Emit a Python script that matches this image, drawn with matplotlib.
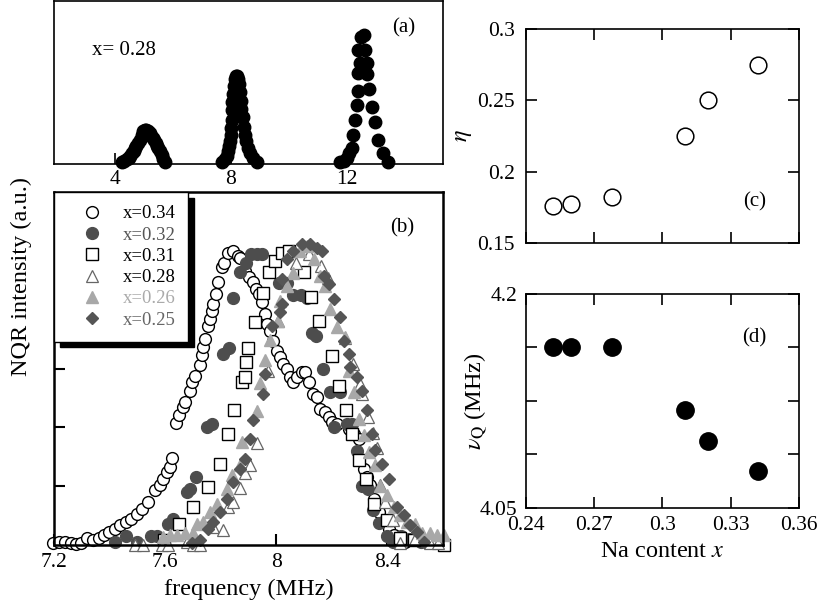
import matplotlib
matplotlib.use('Agg')
import matplotlib.pyplot as plt

plt.rcParams['font.family'] = ['Liberation Serif', 'DejaVu Serif']
plt.rcParams['mathtext.fontset'] = 'stix'

# (a) full spectrum, x=0.28
a_freq = [4.23, 4.32, 4.40, 4.47, 4.52, 4.58, 4.64, 4.69, 4.74, 4.80, 4.86, 4.92, 4.97, 5.03,
          5.08, 5.13, 5.20, 5.26, 5.30, 5.34, 5.40, 5.45, 5.49, 5.55, 5.61, 5.66, 5.72,
          7.68, 7.78, 7.86, 7.90, 7.94, 7.97, 7.99, 8.00, 8.02, 8.04, 8.05, 8.07, 8.10, 8.14,
          8.18, 8.21, 8.25, 8.28, 8.30, 8.33, 8.36, 8.40, 8.44, 8.48, 8.53, 8.59, 8.67, 8.76, 8.89,
          11.76, 11.88, 11.99, 12.08, 12.16, 12.21, 12.28, 12.33, 12.39, 12.39, 12.45, 12.39, 12.47,
          12.59, 12.62, 12.68, 12.68, 12.77, 12.85, 12.97, 13.07, 13.24, 13.41]
a_int = [0.01, 0.02, 0.03, 0.04, 0.05, 0.07, 0.08, 0.10, 0.11, 0.13, 0.15, 0.18, 0.20, 0.21,
         0.21, 0.20, 0.19, 0.17, 0.16, 0.15, 0.13, 0.11, 0.10, 0.08, 0.055, 0.03, 0.01,
         0.01, 0.03, 0.05, 0.08, 0.11, 0.14, 0.18, 0.22, 0.27, 0.33, 0.38, 0.43, 0.48, 0.52,
         0.54, 0.54, 0.52, 0.49, 0.44, 0.39, 0.34, 0.29, 0.23, 0.18, 0.14, 0.10, 0.07, 0.04, 0.01,
         0.01, 0.02, 0.04, 0.07, 0.10, 0.18, 0.27, 0.36, 0.45, 0.56, 0.62, 0.70, 0.78,
         0.79, 0.70, 0.62, 0.55, 0.46, 0.35, 0.26, 0.15, 0.07, 0.01]

# (b) high-frequency line for each Na content
f34 = [7.198, 7.219, 7.240, 7.260, 7.279, 7.298, 7.320, 7.339, 7.361, 7.380, 7.398, 7.420, 7.438,
       7.459, 7.477, 7.498, 7.517, 7.540, 7.562, 7.580, 7.594, 7.606, 7.618, 7.626, 7.640, 7.650,
       7.664, 7.672, 7.688, 7.696, 7.708, 7.724, 7.732, 7.738, 7.742, 7.753, 7.760, 7.768, 7.774,
       7.784, 7.792, 7.804, 7.813, 7.826, 7.846, 7.861, 7.870, 7.888, 7.904, 7.918, 7.928, 7.940,
       7.948, 7.960, 7.966, 7.978, 7.988, 8.002, 8.014, 8.026, 8.038, 8.050, 8.062, 8.074, 8.092,
       8.104, 8.120, 8.134, 8.147, 8.159, 8.177, 8.189, 8.201, 8.219, 8.261, 8.279, 8.297, 8.315,
       8.327, 8.339, 8.351, 8.357, 8.369, 8.384, 8.405, 8.423, 8.447, 8.465]
i34 = [0.006, 0.011, 0.011, 0.008, 0.003, 0.006, 0.023, 0.017, 0.023, 0.034, 0.043, 0.056, 0.068,
       0.077, 0.090, 0.105, 0.124, 0.147, 0.186, 0.203, 0.226, 0.249, 0.266, 0.296, 0.416, 0.441,
       0.469, 0.486, 0.525, 0.554, 0.576, 0.612, 0.647, 0.672, 0.701, 0.746, 0.768, 0.797, 0.819,
       0.853, 0.895, 0.944, 0.960, 0.994, 1.000, 0.983, 0.977, 0.932, 0.910, 0.893, 0.870, 0.853,
       0.825, 0.785, 0.751, 0.729, 0.695, 0.661, 0.638, 0.616, 0.599, 0.571, 0.554, 0.571, 0.588,
       0.588, 0.556, 0.514, 0.503, 0.463, 0.452, 0.435, 0.418, 0.412, 0.395, 0.379, 0.362, 0.260,
       0.232, 0.203, 0.158, 0.124, 0.113, 0.079, 0.056, 0.034, 0.017, 0.011]

f32 = [7.42, 7.46, 7.50, 7.55, 7.57, 7.61, 7.63, 7.68, 7.69, 7.71, 7.75, 7.77, 7.81, 7.83, 7.845,
       7.87, 7.89, 7.91, 7.93, 7.95, 8.01, 8.04, 8.06, 8.09, 8.11, 8.13, 8.145, 8.17, 8.195, 8.23,
       8.21, 8.255, 8.275, 8.29, 8.31, 8.33, 8.35, 8.37, 8.40, 8.42, 8.45, 8.48, 8.52]
i32 = [0.01, 0.03, 0.01, 0.03, 0.03, 0.07, 0.09, 0.18, 0.19, 0.23, 0.40, 0.41, 0.65, 0.67, 0.84,
       0.93, 0.96, 0.99, 0.99, 0.99, 0.89, 0.89, 0.85, 0.85, 0.84, 0.72, 0.71, 0.60, 0.52, 0.52,
       0.40, 0.41, 0.41, 0.32, 0.20, 0.19, 0.12, 0.075, 0.03, 0.01, 0.03, 0.02, 0.01]

f31 = [7.596, 7.650, 7.700, 7.753, 7.798, 7.826, 7.850, 7.876, 7.888, 7.892, 7.900, 7.924, 7.951,
       7.976, 7.996, 8.020, 8.048, 8.101, 8.125, 8.153, 8.201, 8.226, 8.252, 8.273, 8.300, 8.324,
       8.351, 8.399, 8.447, 8.495, 8.603]
i31 = [0.017, 0.073, 0.128, 0.196, 0.277, 0.379, 0.458, 0.554, 0.571, 0.622, 0.669, 0.757, 0.857,
       0.929, 0.966, 0.992, 1.000, 0.927, 0.845, 0.763, 0.644, 0.540, 0.458, 0.379, 0.288, 0.224,
       0.141, 0.085, 0.023, 0.017, 0.000]

f28 = [7.49, 7.52, 7.59, 7.61, 7.68, 7.70, 7.726, 7.773, 7.809, 7.827, 7.845, 7.870, 7.888,
       7.906, 7.931, 7.971, 8.007, 8.07, 8.12, 8.16, 8.188, 8.249, 8.278, 8.303, 8.310, 8.332,
       8.350, 8.364, 8.375, 8.393, 8.422, 8.447, 8.50, 8.555, 8.584]
i28 = [0.0, 0.0, 0.0, 0.0, 0.01, 0.0, 0.0, 0.061, 0.051, 0.129, 0.146, 0.193, 0.244,
       0.271, 0.346, 0.593, 0.763, 0.96, 0.99, 0.95, 0.908, 0.705, 0.617, 0.549, 0.515, 0.434,
       0.380, 0.329, 0.203, 0.146, 0.085, 0.007, 0.02, 0.007, 0.007]

f26 = [7.594, 7.618, 7.642, 7.672, 7.702, 7.714, 7.738, 7.762, 7.786, 7.822, 7.840, 7.870, 7.876,
       7.930, 7.942, 7.960, 7.978, 8.008, 8.014, 8.038, 8.062, 8.087, 8.111, 8.135, 8.159, 8.177,
       8.195, 8.219, 8.249, 8.261, 8.279, 8.297, 8.315, 8.333, 8.357, 8.375, 8.399, 8.423, 8.447,
       8.471, 8.501, 8.525, 8.555, 8.579, 8.603]
i26 = [0.028, 0.034, 0.034, 0.040, 0.040, 0.073, 0.079, 0.113, 0.141, 0.192, 0.237, 0.271, 0.350,
       0.456, 0.551, 0.630, 0.698, 0.762, 0.829, 0.880, 0.925, 0.999, 1.016, 0.971, 0.915, 0.881,
       0.802, 0.740, 0.706, 0.593, 0.520, 0.429, 0.373, 0.316, 0.271, 0.199, 0.170, 0.130, 0.102,
       0.079, 0.073, 0.040, 0.040, 0.034, 0.034]

f25 = [7.696, 7.726, 7.756, 7.774, 7.798, 7.822, 7.846, 7.870, 7.888, 7.906, 7.918, 7.954, 7.960,
       7.984, 8.014, 8.020, 8.021, 8.038, 8.062, 8.092, 8.122, 8.147, 8.165, 8.171, 8.189, 8.207,
       8.231, 8.243, 8.261, 8.267, 8.291, 8.309, 8.327, 8.345, 8.357, 8.381, 8.405, 8.435, 8.459,
       8.483, 8.507, 8.531]
i25 = [0.006, 0.017, 0.056, 0.079, 0.113, 0.158, 0.215, 0.260, 0.294, 0.362, 0.424, 0.514, 0.582,
       0.745, 0.791, 0.904, 0.820, 0.972, 1.000, 1.023, 1.023, 1.011, 1.000, 0.915, 0.887, 0.836,
       0.774, 0.695, 0.650, 0.605, 0.571, 0.525, 0.458, 0.378, 0.322, 0.277, 0.226, 0.130, 0.102,
       0.068, 0.045, 0.011]

# (c), (d) vs Na content
na_x = [0.252, 0.260, 0.278, 0.310, 0.320, 0.342]
eta = [0.176, 0.177, 0.182, 0.225, 0.250, 0.275]
nu_q = [4.1625, 4.1625, 4.1625, 4.119, 4.097, 4.076]

fig = plt.figure(figsize=(8.2, 6.12), dpi=100)
tick_fs = 15.5
lab_fs = 17.5

# panel (a)
ax_a = fig.add_axes([0.0659, 0.732, 0.474, 0.266])
ax_a.plot(a_freq, a_int, 'o', color='k', ms=9, clip_on=False)
ax_a.set_xlim(1.9, 15.3)
ax_a.set_ylim(0, 1)
ax_a.set_xticks([4, 8, 12])
ax_a.set_yticks([])
ax_a.tick_params(axis='x', direction='in', length=8, width=1.2, labelsize=tick_fs, pad=4)
ax_a.text(0.098, 0.70, 'x= 0.28', transform=ax_a.transAxes, fontsize=15, va='center')
ax_a.text(0.90, 0.834, '(a)', transform=ax_a.transAxes, fontsize=15, ha='center', va='center')
for s in ax_a.spines.values():
    s.set_linewidth(1.2)

# panel (b)
ax_b = fig.add_axes([0.0659, 0.1095, 0.474, 0.5765])
ax_b.plot(f34, i34, 'o', mfc='white', mec='k', mew=1.0, ms=8.5, label='x=0.34', clip_on=False)
ax_b.plot(f32, i32, 'o', color='#4d4d4d', ms=8.5, label='x=0.32', clip_on=False)
ax_b.plot(f31, i31, 's', mfc='white', mec='k', mew=1.0, ms=8, label='x=0.31', clip_on=False)
ax_b.plot(f28, i28, '^', mfc='white', mec='#666666', mew=0.9, ms=8.5, label='x=0.28', clip_on=False)
ax_b.plot(f26, i26, '^', color='#a8a8a8', ms=8.5, label='x=0.26', clip_on=False)
ax_b.plot(f25, i25, 'D', color='#555555', ms=6.5, label='x=0.25', clip_on=False)
ax_b.set_xlim(7.2, 8.6)
ax_b.set_ylim(0, 1.2)
ax_b.set_xticks([7.2, 7.6, 8.0, 8.4])
ax_b.set_xticklabels(['7.2', '7.6', '8', '8.4'])
ax_b.set_yticks([0.2, 0.4, 0.6, 0.8, 1.0])
ax_b.set_yticklabels([])
ax_b.tick_params(direction='in', length=8, width=1.5, labelsize=tick_fs, pad=6)
ax_b.set_xlabel('frequency (MHz)', fontsize=lab_fs, labelpad=5)
for s in ax_b.spines.values():
    s.set_linewidth(1.8)
ax_b.text(0.897, 0.898, '(b)', transform=ax_b.transAxes, fontsize=15, ha='center', va='center')
leg = ax_b.legend(loc='upper left', bbox_to_anchor=(0, 1), borderaxespad=0, fontsize=13.5,
                  fancybox=False, edgecolor='k', framealpha=1, labelspacing=0.22,
                  handletextpad=0.3, borderpad=0.7, handlelength=2.65,
                  shadow={'ox': 4, 'oy': -4, 'color': 'k', 'alpha': 1})
leg.get_frame().set_linewidth(1.0)
for txt, c in zip(leg.get_texts(), ['k', '#555555', 'k', 'k', '#aaaaaa', '#666666']):
    txt.set_color(c)

fig.text(0.026, 0.549, 'NQR intensity (a.u.)', rotation=90, ha='center', va='center',
         fontsize=lab_fs)

# panel (c)
ax_c = fig.add_axes([0.6415, 0.603, 0.3325, 0.3496])
ax_c.plot(na_x, eta, 'o', mfc='white', mec='k', mew=1.1, ms=12)
ax_c.set_xlim(0.24, 0.36)
ax_c.set_ylim(0.15, 0.30)
ax_c.set_xticks([0.24, 0.27, 0.30, 0.33, 0.36])
ax_c.set_xticklabels([])
ax_c.set_yticks([0.15, 0.2, 0.25, 0.3])
ax_c.set_yticklabels(['0.15', '0.2', '0.25', '0.3'])
ax_c.tick_params(direction='in', top=True, right=True, length=8, width=1.2,
                 labelsize=tick_fs, pad=8)
ax_c.set_ylabel(r'$\eta$', fontsize=lab_fs)
ax_c.yaxis.set_label_coords(-0.19, 0.5)
ax_c.text(0.839, 0.19, '(c)', transform=ax_c.transAxes, fontsize=15, ha='center', va='center')
for s in ax_c.spines.values():
    s.set_linewidth(1.2)

# panel (d)
ax_d = fig.add_axes([0.6415, 0.170, 0.3325, 0.3496])
ax_d.plot(na_x, nu_q, 'o', color='k', ms=12.5)
ax_d.set_xlim(0.24, 0.36)
ax_d.set_ylim(4.05, 4.20)
ax_d.set_xticks([0.24, 0.27, 0.30, 0.33, 0.36])
ax_d.set_xticklabels(['0.24', '0.27', '0.3', '0.33', '0.36'])
ax_d.set_yticks([4.05, 4.0875, 4.125, 4.1625, 4.2])
ax_d.set_yticklabels(['4.05', '', '', '', '4.2'])
ax_d.tick_params(direction='in', top=True, right=True, length=8, width=1.2,
                 labelsize=tick_fs, pad=6)
ax_d.set_xlabel(r'Na content $x$', fontsize=lab_fs, labelpad=4)
ax_d.set_ylabel(r'$\nu_\mathrm{Q}$ (MHz)', fontsize=lab_fs)
ax_d.yaxis.set_label_coords(-0.135, 0.5)
ax_d.text(0.838, 0.794, '(d)', transform=ax_d.transAxes, fontsize=15, ha='center', va='center')
for s in ax_d.spines.values():
    s.set_linewidth(1.2)

fig.savefig('out.png', dpi=100)
